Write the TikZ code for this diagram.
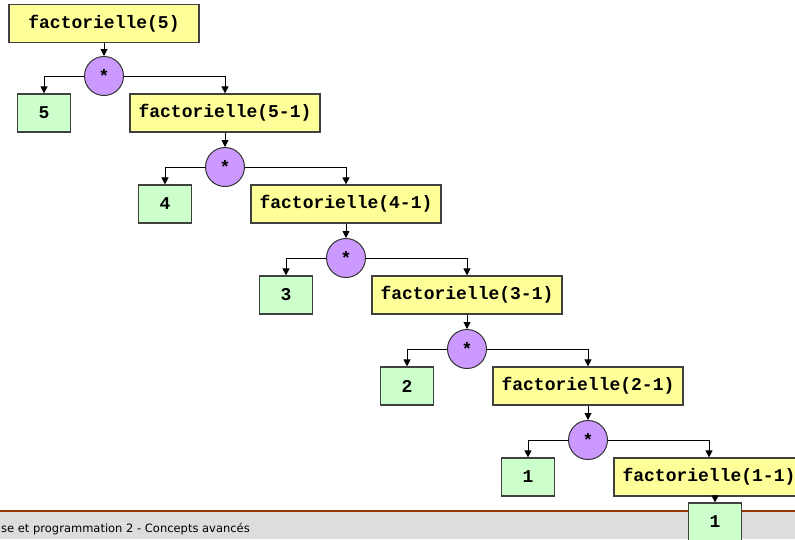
\documentclass[tikz,border=0pt]{standalone}
\usepackage{fontspec}
\setmonofont{Liberation Mono}
\newfontfamily\piedfont{DejaVu Sans}
\usetikzlibrary{arrows.meta}
\definecolor{jaune}{HTML}{FFFF99}
\definecolor{vert}{HTML}{CCFFCC}
\definecolor{violet}{HTML}{CC99FF}
\definecolor{gris}{HTML}{DDDDDD}
\definecolor{brique}{HTML}{993300}
\tikzset{
  appelbox/.style={draw=black!75, line width=1.2pt, fill=jaune, minimum width=190pt,
    minimum height=38pt, inner sep=0pt, font=\ttfamily\bfseries\fontsize{18}{18}\selectfont},
  valbox/.style={draw=black!75, line width=1.2pt, fill=vert, minimum width=53pt,
    minimum height=38pt, inner sep=0pt, font=\ttfamily\bfseries\fontsize{18}{18}\selectfont},
  multnode/.style={circle, draw=black!80, line width=1pt, fill=violet, minimum size=39pt,
    inner sep=0pt, font=\ttfamily\bfseries\fontsize{18}{18}\selectfont},
  fleche/.style={black, line width=0.9pt, -{Triangle[width=7pt,length=7pt]}}
}

\begin{document}
\begin{tikzpicture}[x=1pt, y=-1pt]
\useasboundingbox (0,0) rectangle (795,539);
% bas de page
\fill[gris] (0,511) rectangle (795,539);
\draw[brique, line width=1.5pt] (0,511) -- (795,511);
\node[anchor=base west, inner sep=0pt, font=\piedfont\fontsize{11.5}{12}\selectfont] (pied) at (1,532)
  {se et programmation 2 - Concepts avancés};

\node[appelbox] (f0) at (104,23.5) {factorielle(5)};
\foreach \i [evaluate=\i as \n using int(6-\i), evaluate=\i as \p using int(\i-1)] in {1,...,5} {
  \node[multnode] (m\i) at ({104+121*(\i-1)},{76+91*(\i-1)}) {*};
  \node[valbox] (v\i) at ({44+121*(\i-1)},{113+91*(\i-1)}) {\n};
  \node[appelbox] (f\i) at ({225+121*(\i-1)},{113+91*(\i-1)}) {factorielle(\n-1)};
  \draw[fleche] (f\p.south) -- (m\i.north);
  \draw[fleche] (m\i.west) -| (v\i.north);
  \draw[fleche] (m\i.east) -| (f\i.north);
}
\node[valbox] (v6) at (715,522) {1};
\draw[fleche] (v6.north |- f5.south) -- (v6.north);
\end{tikzpicture}
\end{document}
